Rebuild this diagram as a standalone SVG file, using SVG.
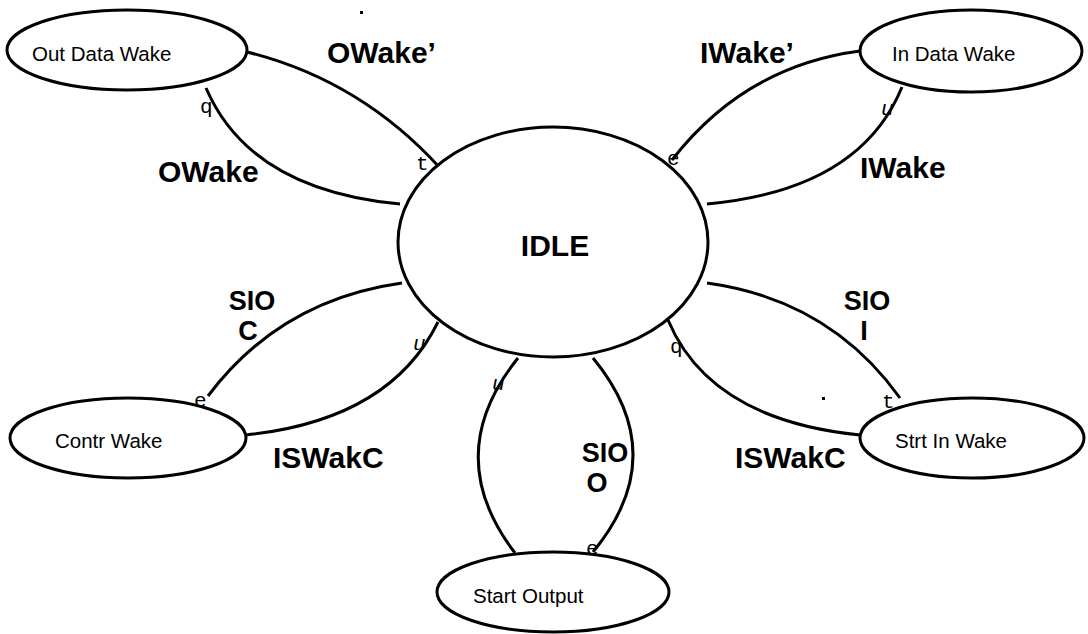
<svg xmlns="http://www.w3.org/2000/svg" width="1088" height="634" viewBox="0 0 1088 634">
<style>
.node{fill:#fff;stroke:#000;stroke-width:3}
.edge{fill:none;stroke:#000;stroke-width:3}
.nt{font-family:"Liberation Sans",Arial,sans-serif;font-size:20.5px;fill:#000}
.lb{font-family:"Liberation Sans",Arial,sans-serif;font-size:30px;font-weight:bold;fill:#000}
.st{font-family:"Liberation Sans",Arial,sans-serif;font-size:27px;font-weight:bold;fill:#000;text-anchor:middle}
.mk{font-family:"Liberation Mono","Courier New",monospace;font-size:21px;fill:#000}
</style>
<rect width="1088" height="634" fill="#fff"/>
<g id="connectors">
<path class="edge" d="M247,52 Q360,80 440,168"/>
<path class="edge" d="M206,88 Q250,190 400,204"/>
<path class="edge" d="M860,51 Q745,66 672,160"/>
<path class="edge" d="M902,87 Q860,190 707,204"/>
<path class="edge" d="M402,283 Q280,300 208,396"/>
<path class="edge" d="M438,322 Q390,420 246,435"/>
<path class="edge" d="M707,283 Q830,300 900,398"/>
<path class="edge" d="M668,320 Q710,420 860,435"/>
<path class="edge" d="M518,358 Q440,455 515,553"/>
<path class="edge" d="M593,358 Q673,455 593,552"/>
<text class="mk" x="416" y="170">t</text>
<text class="mk" x="200" y="113">q</text>
<text class="mk" x="667" y="165">e</text>
<text class="mk" x="881" y="115" font-style="italic">u</text>
<text class="mk" x="194" y="407">e</text>
<text class="mk" x="413" y="350" font-style="italic">u</text>
<text class="mk" x="670" y="353">q</text>
<text class="mk" x="882" y="408">t</text>
<text class="mk" x="492" y="390" font-style="italic">u</text>
<text class="mk" x="586" y="555">e</text>
<text class="lb" x="327" y="63">OWake’</text>
<text class="lb" x="158" y="182">OWake</text>
<text class="lb" x="700" y="63">IWake’</text>
<text class="lb" x="860" y="178">IWake</text>
<text class="st" x="252" y="310">SIO</text>
<text class="st" x="248" y="340">C</text>
<text class="st" x="867" y="310">SIO</text>
<text class="st" x="864" y="340">I</text>
<text class="st" x="605" y="462">SIO</text>
<text class="st" x="597" y="492">O</text>
<text class="lb" x="273" y="468">ISWakC</text>
<text class="lb" x="735" y="468">ISWakC</text>
</g>
<g id="idle">
<ellipse class="node" cx="553" cy="242" rx="155" ry="115"/>
<text class="lb" x="555" y="256" text-anchor="middle">IDLE</text>
</g>
<g id="out-data-wake">
<ellipse class="node" cx="127" cy="50" rx="120" ry="40"/>
<text class="nt" x="32" y="61">Out Data Wake</text>
</g>
<g id="in-data-wake">
<ellipse class="node" cx="971" cy="51" rx="111" ry="41"/>
<text class="nt" x="892" y="61">In Data Wake</text>
</g>
<g id="contr-wake">
<ellipse class="node" cx="128" cy="438" rx="118" ry="40"/>
<text class="nt" x="55" y="448">Contr Wake</text>
</g>
<g id="strt-in-wake">
<ellipse class="node" cx="972" cy="438" rx="112" ry="40"/>
<text class="nt" x="895" y="448">Strt In Wake</text>
</g>
<g id="start-output">
<ellipse class="node" cx="553" cy="592" rx="116" ry="40"/>
<text class="nt" x="473" y="603">Start Output</text>
</g>
<rect x="360" y="11" width="3" height="3" fill="#000"/>
<rect x="822" y="397" width="3" height="3" fill="#000"/>
</svg>
